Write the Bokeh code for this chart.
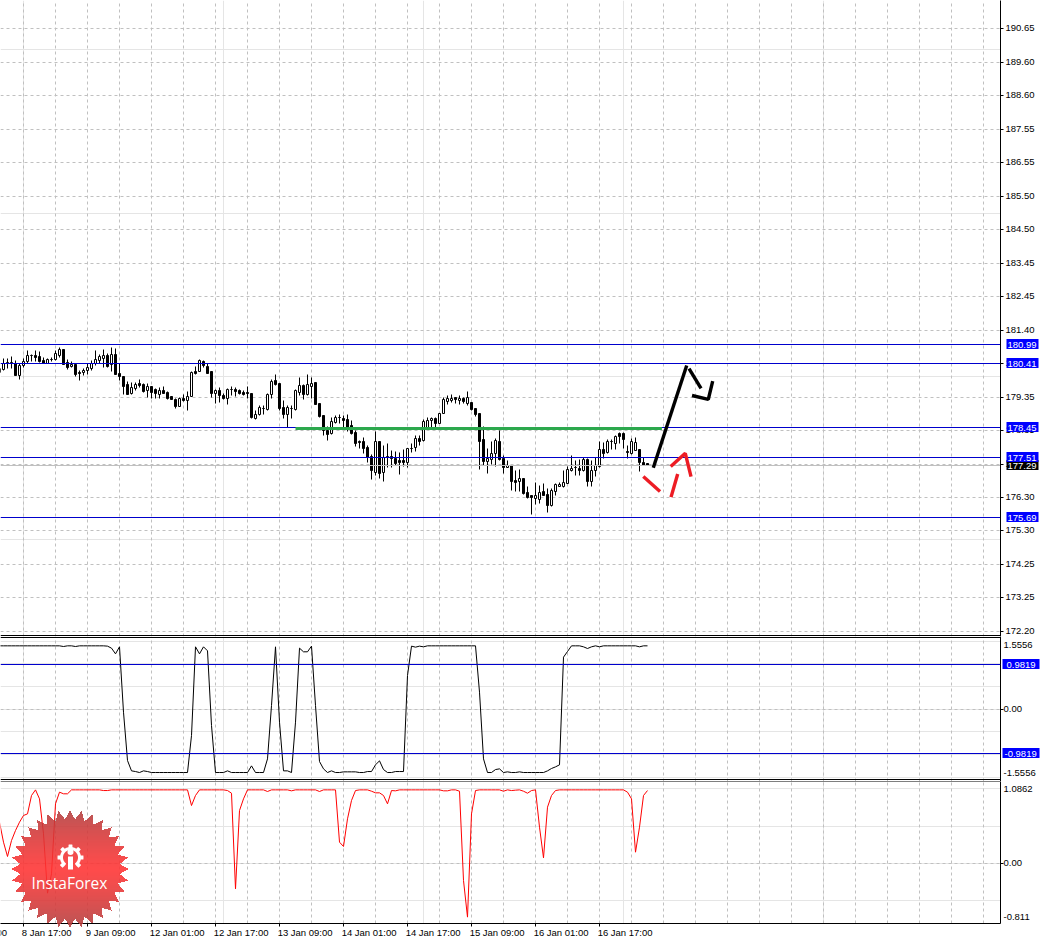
import numpy as np
from bokeh.embed import file_html
from bokeh.resources import INLINE
from bokeh.core.properties import value
from bokeh.layouts import column
from bokeh.plotting import figure
from bokeh.models import Range1d, LinearAxis, Grid, FixedTicker, Span, ColumnDataSource

first_bar = -6
opens = [180.26,180.22,180.39,180.42,180.39,180.03,
 180.33,180.45,180.63,180.64,180.61,180.49,180.41,180.51,180.52,180.63,
 180.83,180.42,180.31,180.37,180.12,180.11,180.19,180.26,180.39,180.49,
 180.54,180.64,180.36,180.68,180.09,180.01,179.75,179.47,179.63,179.78,
 179.76,179.57,179.70,179.59,179.45,179.57,179.51,179.38,179.31,179.08,
 179.33,179.28,179.40,180.15,180.14,180.47,180.31,180.16,179.49,179.57,
 179.42,179.34,179.60,179.60,179.57,179.52,179.50,179.47,178.72,178.83,
 179.01,179.00,179.45,179.88,179.78,179.04,178.84,179.03,179.00,179.52,
 179.73,179.45,179.71,179.83,179.17,178.81,178.35,178.25,178.59,178.74,
 178.71,178.69,178.50,178.30,178.01,178.01,177.84,177.55,177.07,178.01,
 177.07,177.54,177.55,177.48,177.43,177.43,177.38,177.81,177.84,178.09,
 178.04,178.45,178.64,178.71,178.57,178.86,179.25,179.27,179.35,179.27,
 179.32,179.17,179.20,179.01,178.88,178.06,177.41,177.47,177.64,178.01,
 177.48,177.21,177.27,176.82,176.80,176.88,176.45,176.35,176.27,176.25,
 176.48,176.39,176.05,176.48,176.62,176.62,176.74,177.11,177.21,177.20,
 177.11,177.45,176.80,177.11,177.25,177.76,177.68,178.02,177.96,178.25,
 178.27,177.72,177.66,177.74,177.76,177.37,177.33]
highs = [180.26,180.54,180.55,180.61,180.49,180.39,
 180.54,180.80,180.68,180.80,180.76,180.59,180.54,180.57,180.80,180.90,
 180.83,180.51,180.47,180.39,180.19,180.24,180.39,180.49,180.80,180.68,
 180.82,180.70,180.88,180.85,180.39,180.01,179.86,179.83,179.81,179.90,
 179.78,179.78,179.70,179.62,179.65,179.70,179.54,179.39,179.32,179.37,
 179.44,179.54,180.14,180.31,180.53,180.49,180.39,180.16,179.60,179.65,
 179.47,179.63,179.68,179.65,179.60,179.57,179.68,179.47,178.96,179.11,
 179.11,179.47,179.90,180.06,179.78,179.27,179.11,179.11,179.59,179.98,
 179.76,180.06,179.98,179.83,179.17,178.81,178.47,178.74,178.81,178.84,
 178.81,178.83,178.66,178.35,178.04,178.13,177.89,177.62,178.33,178.01,
 177.89,177.94,177.74,177.72,177.69,177.76,177.81,177.94,178.20,178.20,
 178.69,178.74,178.76,178.74,178.88,179.35,179.42,179.45,179.37,179.42,
 179.37,179.54,179.20,179.01,178.88,178.47,177.79,178.02,178.10,178.35,
 177.59,177.43,177.28,177.11,177.15,176.88,176.62,176.36,176.77,176.67,
 176.72,176.56,176.56,176.74,176.77,177.13,177.25,177.59,177.43,177.45,
 177.51,177.48,177.43,177.53,178.02,177.99,178.06,178.06,178.20,178.30,
 178.30,177.89,178.10,178.13,177.76,177.53,177.33]
lows = [180.00,180.19,180.24,180.26,180.03,179.91,
 180.29,180.41,180.46,180.47,180.43,180.39,180.39,180.47,180.49,180.57,
 180.37,180.23,180.29,180.00,179.88,180.03,180.06,180.19,180.34,180.39,
 180.27,180.29,180.14,180.07,179.88,179.45,179.45,179.45,179.57,179.65,
 179.51,179.35,179.33,179.34,179.34,179.47,179.30,179.29,179.01,179.08,
 179.25,178.96,179.39,180.05,180.14,180.29,180.10,179.37,179.17,179.22,
 179.29,179.15,179.42,179.39,179.44,179.42,179.34,178.72,178.68,178.80,
 178.84,178.96,179.32,179.73,178.96,178.71,178.43,178.71,178.96,179.42,
 179.30,179.42,179.32,179.15,178.74,178.20,178.04,178.23,178.57,178.57,
 178.40,178.33,178.23,177.86,177.79,177.66,177.38,176.86,176.97,176.89,
 176.79,177.21,177.21,177.28,177.00,177.26,177.21,177.69,177.72,177.88,
 178.02,178.40,178.40,178.45,178.55,178.86,179.15,179.22,179.17,179.15,
 179.19,179.12,178.96,178.78,177.16,177.28,177.02,177.31,177.25,177.43,
 177.04,177.21,176.51,176.49,176.49,176.38,176.28,175.78,176.09,176.11,
 176.35,175.85,176.02,176.36,176.62,176.60,176.72,177.08,176.97,176.97,
 177.08,176.64,176.62,176.94,177.21,177.48,177.66,177.77,177.77,177.94,
 177.79,177.48,177.62,177.74,177.08,177.27,177.27]
closes = [180.13,180.41,180.42,180.42,180.03,180.34,
 180.45,180.63,180.63,180.59,180.46,180.41,180.52,180.51,180.70,180.83,
 180.37,180.29,180.37,180.07,180.08,180.19,180.28,180.41,180.51,180.61,
 180.63,180.31,180.68,180.07,180.01,179.71,179.45,179.65,179.75,179.73,
 179.53,179.70,179.52,179.47,179.57,179.49,179.33,179.30,179.08,179.33,
 179.27,179.40,180.11,180.10,180.49,180.33,180.10,179.49,179.57,179.42,
 179.34,179.60,179.60,179.55,179.47,179.45,179.47,178.74,178.83,179.05,
 179.01,179.45,179.85,179.76,179.02,178.84,179.06,179.03,179.57,179.73,
 179.45,179.76,179.79,179.15,178.78,178.35,178.23,178.63,178.74,178.74,
 178.64,178.40,178.25,177.96,177.97,177.81,177.51,177.11,178.01,177.04,
 177.51,177.54,177.48,177.33,177.38,177.37,177.79,177.81,178.09,178.02,
 178.61,178.66,178.71,178.57,178.86,179.30,179.32,179.32,179.29,179.32,
 179.25,179.35,179.00,178.84,178.01,177.41,177.48,177.64,178.04,177.45,
 177.23,177.28,176.80,176.77,176.88,176.41,176.29,176.31,176.35,176.44,
 176.36,176.05,176.51,176.70,176.70,176.76,177.15,177.20,177.21,177.13,
 177.46,176.79,177.13,177.27,177.76,177.66,178.02,178.02,178.17,178.17,
 178.08,177.68,178.01,177.99,177.38,177.28,177.29]

osc_upper = [1.401,1.401,1.401,1.401,1.401,1.401,
 1.401,1.401,1.401,1.401,1.401,1.401,1.401,1.401,1.401,1.401,
 1.386,1.401,1.401,1.386,1.401,1.401,1.401,1.401,1.401,1.401,
 1.401,1.394,1.350,1.224,1.379,-0.064,-1.131,-1.359,-1.374,-1.396,
 -1.359,-1.374,-1.396,-1.396,-1.396,-1.396,-1.396,-1.396,-1.396,-1.396,
 -1.396,-1.396,-0.579,1.379,1.224,1.379,1.291,-0.358,-1.396,-1.396,
 -1.396,-1.359,-1.396,-1.396,-1.396,-1.396,-1.396,-1.249,-1.396,-1.396,
 -1.396,-1.094,0.084,1.379,-0.284,-1.359,-1.359,-1.396,-0.284,1.350,
 1.269,1.269,1.394,0.084,-1.153,-1.315,-1.396,-1.359,-1.396,-1.396,
 -1.381,-1.381,-1.381,-1.381,-1.396,-1.396,-1.374,-1.374,-1.226,-1.138,
 -1.330,-1.396,-1.396,-1.374,-1.374,-1.374,0.746,1.394,1.372,1.394,
 1.379,1.401,1.401,1.401,1.401,1.401,1.401,1.401,1.401,1.401,
 1.401,1.401,1.401,1.401,0.378,-1.094,-1.396,-1.396,-1.330,-1.315,
 -1.396,-1.381,-1.396,-1.396,-1.381,-1.396,-1.396,-1.396,-1.396,-1.396,
 -1.396,-1.359,-1.307,-1.271,-1.226,1.151,1.276,1.401,1.401,1.401,
 1.379,1.342,1.379,1.401,1.379,1.401,1.401,1.401,1.401,1.401,
 1.401,1.401,1.401,1.401,1.379,1.401,1.401]
osc_lower = [0.552,0.283,0.090,0.305,0.440,0.552,
 0.642,0.664,0.911,0.987,0.866,0.395,-0.403,-0.143,0.799,0.956,
 0.934,0.934,0.987,0.987,0.987,0.987,0.987,0.987,0.987,0.987,
 0.978,0.978,0.987,0.987,0.987,0.987,0.987,0.987,0.987,0.987,
 0.987,0.987,0.987,0.987,0.987,0.987,0.987,0.987,0.987,0.987,
 0.987,0.987,0.776,0.911,0.987,0.987,0.987,0.987,0.987,0.987,
 0.987,0.978,0.942,-0.345,0.709,0.866,0.987,0.987,0.987,0.987,
 0.987,0.965,0.987,0.987,0.987,0.987,0.987,0.974,0.987,0.987,
 0.987,0.987,0.987,0.987,0.965,0.987,0.987,0.987,0.987,0.283,
 0.225,0.597,0.844,0.978,0.987,0.987,0.987,0.969,0.947,0.947,
 0.911,0.799,0.978,0.974,0.987,0.987,0.987,0.987,0.987,0.987,
 0.987,0.987,0.987,0.987,0.987,0.974,0.974,0.987,0.987,0.969,
 -0.233,-0.726,0.664,0.978,0.987,0.987,0.987,0.987,0.987,0.987,
 0.969,0.987,0.978,0.983,0.987,0.969,0.942,0.978,0.987,0.485,
 0.072,0.754,0.911,0.978,0.987,0.987,0.987,0.987,0.987,0.987,
 0.987,0.987,0.987,0.987,0.987,0.987,0.987,0.987,0.987,0.987,
 0.987,0.956,0.866,0.148,0.485,0.911,0.978]

price_ticks = [190.65,189.60,188.60,187.55,186.55,185.50,184.50,183.45,182.45,181.40,180.41,
               179.35,178.35,177.30,176.30,175.30,174.25,173.25,172.20]
level_prices = [180.99,180.41,178.45,177.51,175.69]
last_price = 177.29
upper_levels = [0.9819,-0.9819]
date_bars = [0,16,32,48,64,80,96,112,128,144]
date_labels = ["8 Jan 17:00","9 Jan 09:00","12 Jan 01:00","12 Jan 17:00","13 Jan 09:00",
               "14 Jan 01:00","14 Jan 17:00","15 Jan 09:00","16 Jan 01:00","16 Jan 17:00"]

green_x = [68.0,159.6]
green_y = [178.40,178.40]
black_paths = [([157.45,165.8],[177.21,180.34]),
               ([166.38,169.38],[180.24,179.64]),
               ([167.13,171.2,172.3],[179.42,179.30,179.86])]
red_paths = [([154.95,159.13],[176.94,176.48]),
             ([161.88,163.55],[176.31,177.02]),
             ([161.8,165.45,166.88],[177.25,177.65,176.94])]

FONT = "Liberation Sans"
FS = "9.5px"
GRID = "#c0c0c0"
BLUE = "#0000cd"
BOX_BLUE = "#0000ff"

x_start, x_end = -5.75, 244.25
price_range = (172.045, 191.507)
upper_range = (-1.594, 1.607)
lower_range = (-0.8116, 1.0996)
grid_bars = list(range(0, 241, 8))
H1, H2, H3 = 636, 145, 142
ABS = {"position": "absolute", "left": "0", "top": "0"}

def row_of(v, rng, h):
    return (rng[1] - np.asarray(v, dtype=float)) / (rng[1] - rng[0]) * h
def at(rng, h, row):
    return rng[1] - row / h * (rng[1] - rng[0])
def snap(v, rng, h, shift=0):
    """nearest value that falls on a whole pixel row, as the terminal itself draws"""
    return (rng[1] - (np.round(row_of(v, rng, h)) + shift) / h * (rng[1] - rng[0])).tolist()

def base(height, yr, bottom=0):
    p = figure(width=1042, height=height, x_range=Range1d(x_start, x_end), y_range=Range1d(*yr),
               x_axis_location=None, y_axis_location=None, toolbar_location=None,
               output_backend="svg", min_border_left=0, min_border_top=0, min_border_right=42,
               min_border_bottom=bottom, outline_line_color=None, background_fill_color="white",
               border_fill_color="white")
    p.add_layout(Grid(dimension=0, ticker=FixedTicker(ticks=grid_bars), grid_line_color=GRID,
                      grid_line_dash="3 3", grid_line_width=1))
    return p

def right_axis(p, major, overrides, minor, standoff=0):
    ax = LinearAxis(ticker=FixedTicker(ticks=major, minor_ticks=minor), axis_line_color="black",
                    major_tick_line_color="black", minor_tick_line_color="black",
                    major_tick_out=0, major_tick_in=0, minor_tick_out=3, minor_tick_in=0,
                    major_label_standoff=standoff, major_label_text_font=FONT,
                    major_label_text_font_size=FS, major_label_text_color="black",
                    major_label_overrides=overrides)
    p.add_layout(ax, "right")
    return ax

# ---- price pane
p1 = base(H1, price_range)
ps = lambda v: snap(v, price_range, H1)
tick_rows = ps(price_ticks)
label_rows = snap(price_ticks, price_range, H1, shift=-1)
p1.add_layout(Grid(dimension=1, ticker=FixedTicker(ticks=tick_rows), grid_line_color=GRID,
                   grid_line_dash="3 3"))
right_axis(p1, label_rows, {k: f"{t:.2f}" for k, t in zip(label_rows, price_ticks)}, tick_rows, standoff=2)
bars = list(range(first_bar, first_bar + len(opens)))
s_o, s_h, s_l, s_c = ps(opens), ps(highs), ps(lows), ps(closes)
src = ColumnDataSource(dict(x=bars, h=s_h, l=s_l,
                            top=[max(a, b) for a, b in zip(s_o, s_c)],
                            bot=[min(a, b) for a, b in zip(s_o, s_c)],
                            fill=["white" if c >= o else "black" for o, c in zip(opens, closes)]))
p1.segment("x", "h", "x", "l", source=src, line_color="black", line_width=1)
p1.vbar(x="x", width=0.5, top="top", bottom="bot", source=src, fill_color="fill", line_color="black",
        line_width=1)
p1.line([x_start, x_end], ps([last_price, last_price]), line_color=GRID, line_width=1)
for lv in level_prices:
    p1.line([x_start, x_end], ps([lv, lv]), line_color=BLUE, line_width=1)
p1.add_layout(Span(location=at(price_range, H1, 635), dimension="width", line_color="black", line_width=1))
p1.line(green_x, ps(green_y), line_color="#2ca84d", line_width=3)
for xs, ys in black_paths:
    p1.line(xs, ys, line_color="black", line_width=3.4)
for xs, ys in red_paths:
    p1.line(xs, ys, line_color="#ed1c24", line_width=3.4)

# ---- upper oscillator
p2 = base(H2, upper_range)
z2 = snap([0], upper_range, H2)[0]
z2l = snap([0], upper_range, H2, shift=-1)[0]
p2.add_layout(Grid(dimension=1, ticker=FixedTicker(ticks=[z2]), grid_line_color=GRID, grid_line_dash="3 3"))
right_axis(p2, [1.413, z2l, -1.40], {1.413: "1.5556", z2l: "0.00", -1.40: "-1.5556"}, [z2])
p2.line(bars, osc_upper, line_color="black", line_width=1)
for lv in upper_levels:
    p2.add_layout(Span(location=snap([lv], upper_range, H2)[0], dimension="width", line_color=BLUE, line_width=1))
p2.add_layout(Span(location=at(upper_range, H2, 1), dimension="width", line_color="black", line_width=1))
p2.add_layout(Span(location=at(upper_range, H2, 143), dimension="width", line_color="black", line_width=1))

# ---- lower oscillator
p3 = base(H3 + 17, lower_range, bottom=17)
z3 = snap([0], lower_range, H3)[0]
z3l = snap([0], lower_range, H3, shift=-1)[0]
p3.add_layout(Grid(dimension=1, ticker=FixedTicker(ticks=[z3]), grid_line_color=GRID, grid_line_dash="3 3"))
right_axis(p3, [1.0, z3l, -0.73], {1.0: "1.0862", z3l: "0.00", -0.73: "-0.811"}, [z3])
p3.line(bars, osc_lower, line_color="#ff0000", line_width=1)
p3.add_layout(Span(location=at(lower_range, H3, 0), dimension="width", line_color="black", line_width=1))

# date axis: the labels hang to the right of their ticks
label_shift = [5.8 if len(t) == 11 else 6.4 for t in date_labels]
label_pos = [b + s for b, s in zip(date_bars, label_shift)]
xax = LinearAxis(ticker=FixedTicker(ticks=label_pos, minor_ticks=date_bars), axis_line_color="black",
                 major_tick_out=0, major_tick_in=0, minor_tick_out=3, minor_tick_in=0,
                 minor_tick_line_color="black", major_label_standoff=0, major_label_text_font=FONT,
                 major_label_text_font_size=FS, major_label_text_color="black",
                 major_label_overrides=dict(zip(label_pos, date_labels)))
p3.add_layout(xax, "below")

# ---- transparent overlay over the whole page: tags, clipped date label, watermark
ov = figure(width=1042, height=940, x_range=Range1d(0, 1042), y_range=Range1d(940, 0),
            x_axis_location=None, y_axis_location=None, toolbar_location=None, output_backend="svg",
            min_border=0, outline_line_color=None, background_fill_color=None, border_fill_color=None,
            styles=ABS)
ov.grid.visible = False

def tag(text, row, x0, x1, tx, color=BOX_BLUE):
    ov.quad(left=[x0], right=[x1], top=[row - 5.5], bottom=[row + 4.5], fill_color=color, line_color=None)
    ov.text(x=[tx], y=[row], text=[text], text_color="white", text_font=value(FONT), text_font_size=FS,
            text_baseline="middle", text_align="left")

tag(f"{last_price:.2f}", 465, 1006, 1038, 1007, color="black")
for lv in level_prices:
    tag(f"{lv:.2f}", round(float(row_of(lv, price_range, H1))), 1006, 1038, 1007)
for lv in upper_levels:
    tag(f"{lv:.4f}", round(636 + float(row_of(lv, upper_range, H2))), 1002, 1039, 1006 if lv > 0 else 1004)
ov.text(x=[-4], y=[932], text=["00"], text_color="black", text_font=value(FONT), text_font_size=FS,
        text_baseline="middle", text_align="left")

cx, cy, R, r, n = 70.0, 869.0, 59.0, 50.0, 32
ang = np.arange(2 * n) * np.pi / n
rad = np.where(np.arange(2 * n) % 2 == 0, R, r)
sx, sy = cx + rad * np.cos(ang), cy + rad * np.sin(ang)
def spans(yc):
    xs = []
    for i in range(len(sx)):
        j = (i + 1) % len(sx)
        if (sy[i] <= yc) != (sy[j] <= yc):
            xs.append(sx[i] + (yc - sy[i]) * (sx[j] - sx[i]) / (sy[j] - sy[i]))
    xs.sort()
    return [(round(xs[k]), round(xs[k + 1])) for k in range(0, len(xs) - 1, 2)]
def shade(yc):
    t = min(abs(yc - cy) / R, 1.0) ** 1.2
    return "#%02x%02x%02x" % (int(255 - 79 * t), int(50 + 12 * t), int(50 + 12 * t))
L, Rr, T, B, C = [], [], [], [], []
for row in range(810, 929):
    for a, b in spans(row + 0.5):
        if b > a:
            L.append(a - 0.5); Rr.append(b - 0.5); T.append(row - 0.5); B.append(row + 0.5)
            C.append(shade(row + 0.5))
ov.quad(left=L, right=Rr, top=T, bottom=B, fill_color=C, fill_alpha=0.88, line_color=None)
a = np.radians(np.linspace(125, 415, 120))
gx, gy = [], []
for t in a:
    tooth = 13.0 if np.cos(8 * (t - np.pi / 2)) > 0.2 else 10.5
    gx.append(cx + tooth * np.cos(t)); gy.append(857 + tooth * np.sin(t))
for t in a[::-1]:
    gx.append(cx + 7.5 * np.cos(t)); gy.append(857 + 7.5 * np.sin(t))
ov.patch(gx, gy, fill_color="white", line_color=None)
ov.circle(x=[cx], y=[851.5], radius=3, radius_units="screen", fill_color="white", line_color=None)
ov.patch([67.5, 72.5, 72.5, 67.5], [856, 856, 869, 869], fill_color="white", line_color=None)
ov.text(x=[cx - 1], y=[882], text=["InstaForex"], text_font=value("Open Sans"), text_font_size="15.5px",
        text_color="white", text_align="center", text_baseline="middle")

layout = column(p1, p2, p3, spacing=0, styles=ABS)
open("out.html", "w").write(file_html([layout, ov], INLINE))
